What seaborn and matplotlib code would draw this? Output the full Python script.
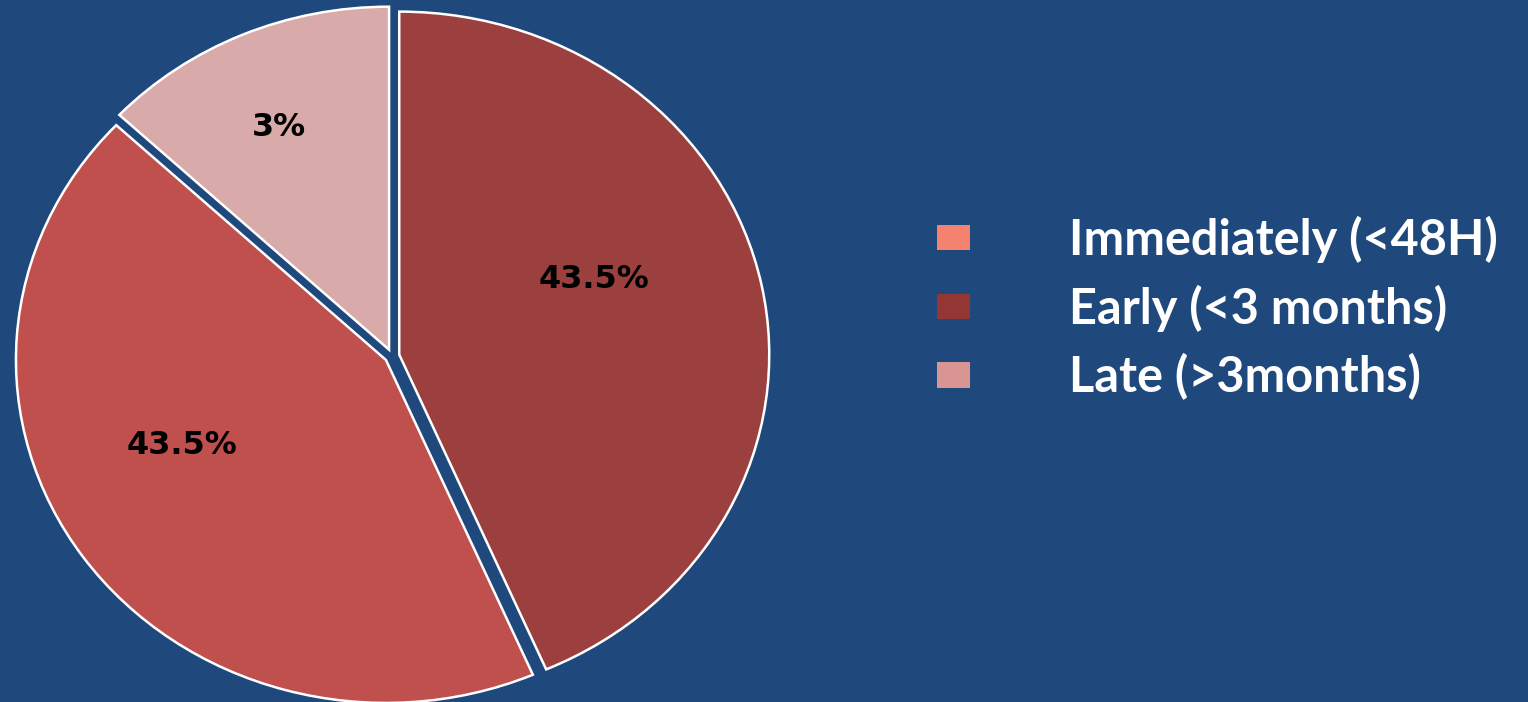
import matplotlib
matplotlib.use("Agg")
import matplotlib.pyplot as plt
from matplotlib.patches import Patch
import seaborn as sns

# ---- data ----
slice_values = [43.5, 43.5, 13.0]
slice_labels = ["43.5%", "43.5%", "3%"]
slice_colors = ["#9C403F", "#C0504D", "#D9AAAA"]

legend_categories = ["Immediately (<48H)", "Early (<3 months)", "Late (>3months)"]
legend_colors = ["#F4826F", "#943634", "#D99594"]

BG = "#1F497D"

sns.set_theme(style="white")
plt.rcParams["font.family"] = ["DejaVu Sans"]

fig = plt.figure(figsize=(15.28, 7.02), dpi=100, facecolor=BG)

# axes covering left part; elliptical pie via auto aspect
ax = fig.add_axes([0, 0, 784 / 1528, 1])
ax.set_facecolor(BG)

wedges, texts, autotexts = ax.pie(
    slice_values,
    colors=slice_colors,
    startangle=90,
    counterclock=False,
    explode=[0.02, 0.02, 0.02],
    autopct="%1.1f",
    pctdistance=0.6,
    wedgeprops=dict(edgecolor="white", linewidth=1.8),
    textprops=dict(color="black", fontsize=23, fontweight="bold"),
)
for t, lab in zip(autotexts, slice_labels):
    t.set_text(lab)
    x, y = t.get_position()
    t.set_position((x - 0.06, y + 0.096))

ax.set_aspect("auto")
ax.set_xlim(-392 / 370, 392 / 370)
ax.set_ylim(-346 / 343, 356 / 343)
ax.axis("off")

handles = [Patch(facecolor=c, edgecolor="none") for c in legend_colors]
leg = fig.legend(
    handles,
    legend_categories,
    loc="center left",
    bbox_to_anchor=(893 / 1528, 1 - 308 / 702),
    frameon=False,
    handlelength=0.68,
    handleheight=0.43,
    handletextpad=2.05,
    labelspacing=0.45,
    prop={"family": "Lato", "weight": "bold", "size": 35},
)
for t in leg.get_texts():
    t.set_color("white")

fig.savefig("out.png", dpi=100, facecolor=BG)
